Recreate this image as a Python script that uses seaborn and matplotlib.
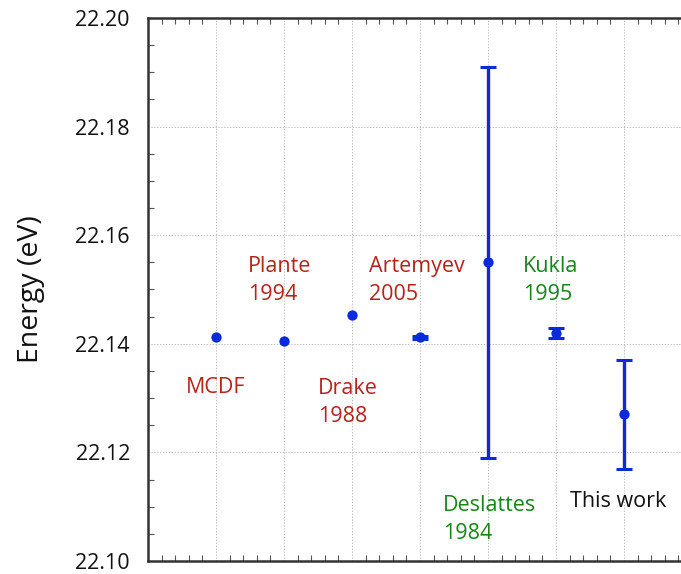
import matplotlib
matplotlib.use("Agg")
import matplotlib.pyplot as plt
import seaborn as sns
import pandas as pd
from matplotlib.ticker import MultipleLocator

# -----------------------------
# DATA
# -----------------------------
sources = ["MCDF", "Plante 1994", "Drake 1988", "Artemyev 2005",
           "Deslattes 1984", "Kukla 1995", "This work"]
positions = [1, 2, 3, 4, 5, 6, 7]
energy = [22.1413, 22.1406, 22.1453, 22.1412, 22.155, 22.1420, 22.127]
energy_err = [0.0, 0.0, 0.0, 0.0003, 0.036, 0.001, 0.010]

labels = ["MCDF", "Plante\n1994", "Drake\n1988", "Artemyev\n2005",
          "Deslattes\n1984", "Kukla\n1995", "This work"]
label_x = [1.0, 1.47, 2.50, 3.25, 4.34, 5.51, 6.21]
label_y = [22.1319, 22.1517, 22.1292, 22.1517, 22.1076, 22.1517, 22.1109]
label_ha = ["center", "left", "left", "left", "left", "left", "left"]
label_col = ["#b3241b", "#b3241b", "#b3241b", "#b3241b",
             "#17851a", "#17851a", "#111111"]

df = pd.DataFrame({"source": sources, "x": positions, "energy": energy, "err": energy_err})

# -----------------------------
# STYLE
# -----------------------------
sns.set_theme(style="ticks")
plt.rcParams["font.family"] = ["Open Sans", "DejaVu Sans"]

blue = "#0a2bdc"

fig = plt.figure(figsize=(6.81, 5.74), dpi=100)
ax = fig.add_axes([148 / 681, 13 / 574, 8 * 68 / 681, 543 / 574])

# error bars only where an uncertainty is given
with_err = df[df["err"] > 0]
ax.errorbar(with_err["x"], with_err["energy"], yerr=with_err["err"], fmt="none",
            ecolor=blue, elinewidth=2.4, capsize=5.5, capthick=2.2, zorder=3)
sns.scatterplot(data=df, x="x", y="energy", ax=ax, color=blue, s=55,
                edgecolor=blue, linewidth=0, zorder=4, legend=False)

for t, x, y, ha, c in zip(labels, label_x, label_y, label_ha, label_col):
    ax.text(x, y, t, ha=ha, va="center", color=c, fontsize=15.5,
            linespacing=1.45)

# -----------------------------
# AXES
# -----------------------------
ax.set_xlim(0, 8)
ax.set_ylim(22.10, 22.20)
ax.xaxis.set_major_locator(MultipleLocator(1))
ax.xaxis.set_minor_locator(MultipleLocator(0.2))
ax.yaxis.set_major_locator(MultipleLocator(0.02))
ax.yaxis.set_minor_locator(MultipleLocator(0.005))
ax.yaxis.set_major_formatter(plt.FormatStrFormatter("%.2f"))

ax.tick_params(axis="x", which="both", direction="in", top=True, bottom=True,
               labelbottom=False, color="#555555")
ax.tick_params(axis="x", which="major", length=0)
ax.tick_params(axis="x", which="minor", length=4, width=0.8)
ax.tick_params(axis="y", which="both", direction="in", right=False,
               color="#555555")
ax.tick_params(axis="y", which="major", length=0, pad=13, labelsize=15.5,
               labelcolor="#111111")
ax.tick_params(axis="y", which="minor", length=4, width=0.8)

ax.grid(True, which="major", linestyle=(0, (1.2, 1.8)), color="#b5b5b5",
        linewidth=0.7)

for side in ["left", "top", "bottom"]:
    ax.spines[side].set_color("#333333")
    ax.spines[side].set_linewidth(1.8)
ax.spines["right"].set_visible(False)

ax.set_xlabel("")
ax.set_ylabel("Energy (eV)", fontsize=20.5, labelpad=22, color="#111111")

plt.savefig("out.png", dpi=100)
